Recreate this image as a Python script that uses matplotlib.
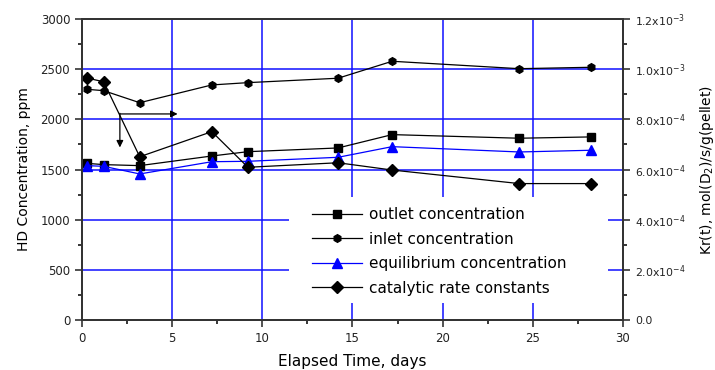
import math
import matplotlib.pyplot as plt
from matplotlib.patches import Rectangle
from matplotlib.ticker import MultipleLocator, FuncFormatter

plt.rcParams['font.family'] = ['DejaVu Sans']
plt.rcParams['mathtext.fontset'] = 'dejavusans'

# elapsed time, days
days = [0.25, 1.2, 3.2, 7.2, 9.2, 14.2, 17.2, 24.25, 28.2]

# HD concentration, ppm
outlet = [1562, 1549, 1539, 1635, 1678, 1715, 1848, 1812, 1825]
inlet = [2300, 2286, 2166, 2343, 2366, 2410, 2579, 2505, 2519]
equilibrium = [1539, 1532, 1456, 1578, 1582, 1622, 1728, 1675, 1692]

# catalytic rate constants, mol(D2)/s/g(pellet)
rate = [0.965e-3, 0.950e-3, 0.651e-3, 0.751e-3, 0.609e-3, 0.627e-3,
        0.598e-3, 0.544e-3, 0.544e-3]

fig = plt.figure(figsize=(7.15, 3.7), dpi=100)
ax = fig.add_axes([0.1147, 0.135, 0.7566, 0.8136])
ax2 = ax.twinx()

grid_blue = '#1010ff'
for v in [5, 10, 15, 20, 25]:
    ax.axvline(v, color=grid_blue, lw=1.1, zorder=0)
for v in [500, 1000, 1500, 2000, 2500]:
    ax.axhline(v, color=grid_blue, lw=1.1, zorder=0)

# white area behind the legend hides the grid
ax.add_patch(Rectangle((0.383, 0.056), 0.589, 0.353, transform=ax.transAxes,
                       facecolor='white', edgecolor='none', zorder=1))

l1, = ax.plot(days, outlet, color='black', lw=0.9, marker='s', ms=6,
              label='outlet concentration', zorder=3)
l2, = ax.plot(days, inlet, color='black', lw=0.9, marker='h', ms=5.5,
              label='inlet concentration', zorder=3)
l3, = ax.plot(days, equilibrium, color='blue', lw=0.9, marker='^', ms=7,
              label='equilibrium concentration', zorder=3)
l4, = ax2.plot(days, rate, color='black', lw=0.9, marker='D', ms=6.5,
               label='catalytic rate constants')

# arrows pointing to the axes
ax.annotate('', xy=(2.1, 1720), xytext=(2.1, 2060),
            arrowprops=dict(arrowstyle='-|>', color='black', lw=0.9,
                            shrinkA=0, shrinkB=0, mutation_scale=10))
ax.annotate('', xy=(5.3, 2054), xytext=(2.1, 2054),
            arrowprops=dict(arrowstyle='-|>', color='black', lw=0.9,
                            shrinkA=0, shrinkB=0, mutation_scale=10))

ax.set_xlim(0, 30)
ax.set_ylim(0, 3000)
ax2.set_ylim(0, 1.2e-3)

ax.xaxis.set_major_locator(MultipleLocator(5))
ax.xaxis.set_minor_locator(MultipleLocator(2.5))
ax.yaxis.set_major_locator(MultipleLocator(500))
ax.yaxis.set_minor_locator(MultipleLocator(250))
ax2.yaxis.set_major_locator(MultipleLocator(2e-4))
ax2.yaxis.set_minor_locator(MultipleLocator(1e-4))


def sci_fmt(v, pos):
    if v <= 1e-9:
        return '0.0'
    exp = math.floor(math.log10(v) + 1e-9)
    m = v / 10 ** exp
    return r'$%.1f\mathrm{x}10^{%d}$' % (m, exp)


ax2.yaxis.set_major_formatter(FuncFormatter(sci_fmt))

for a in (ax, ax2):
    for s in a.spines.values():
        s.set_linewidth(1.3)
        s.set_color('#333333')
    a.tick_params(which='major', length=5, width=1.1, labelsize=8.5, colors='#222222')
    a.tick_params(which='minor', length=3, width=1.1)
ax2.tick_params(which='major', labelsize=7.8)

ax.set_xlabel('Elapsed Time, days', fontsize=11, labelpad=6.5)
ax.set_ylabel('HD Concentration, ppm', fontsize=10, labelpad=7)
ax2.set_ylabel('Kr(t), mol(D$_2$)/s/g(pellet)', fontsize=10, labelpad=9)

leg = ax.legend(handles=[l1, l2, l3, l4], loc='upper left',
                bbox_to_anchor=(0.425, 0.375), frameon=False,
                fontsize=11, handlelength=3.3, handletextpad=0.45,
                borderaxespad=0, borderpad=0, labelspacing=0.62)
leg.set_zorder(5)

fig.savefig('out.png', dpi=100)
